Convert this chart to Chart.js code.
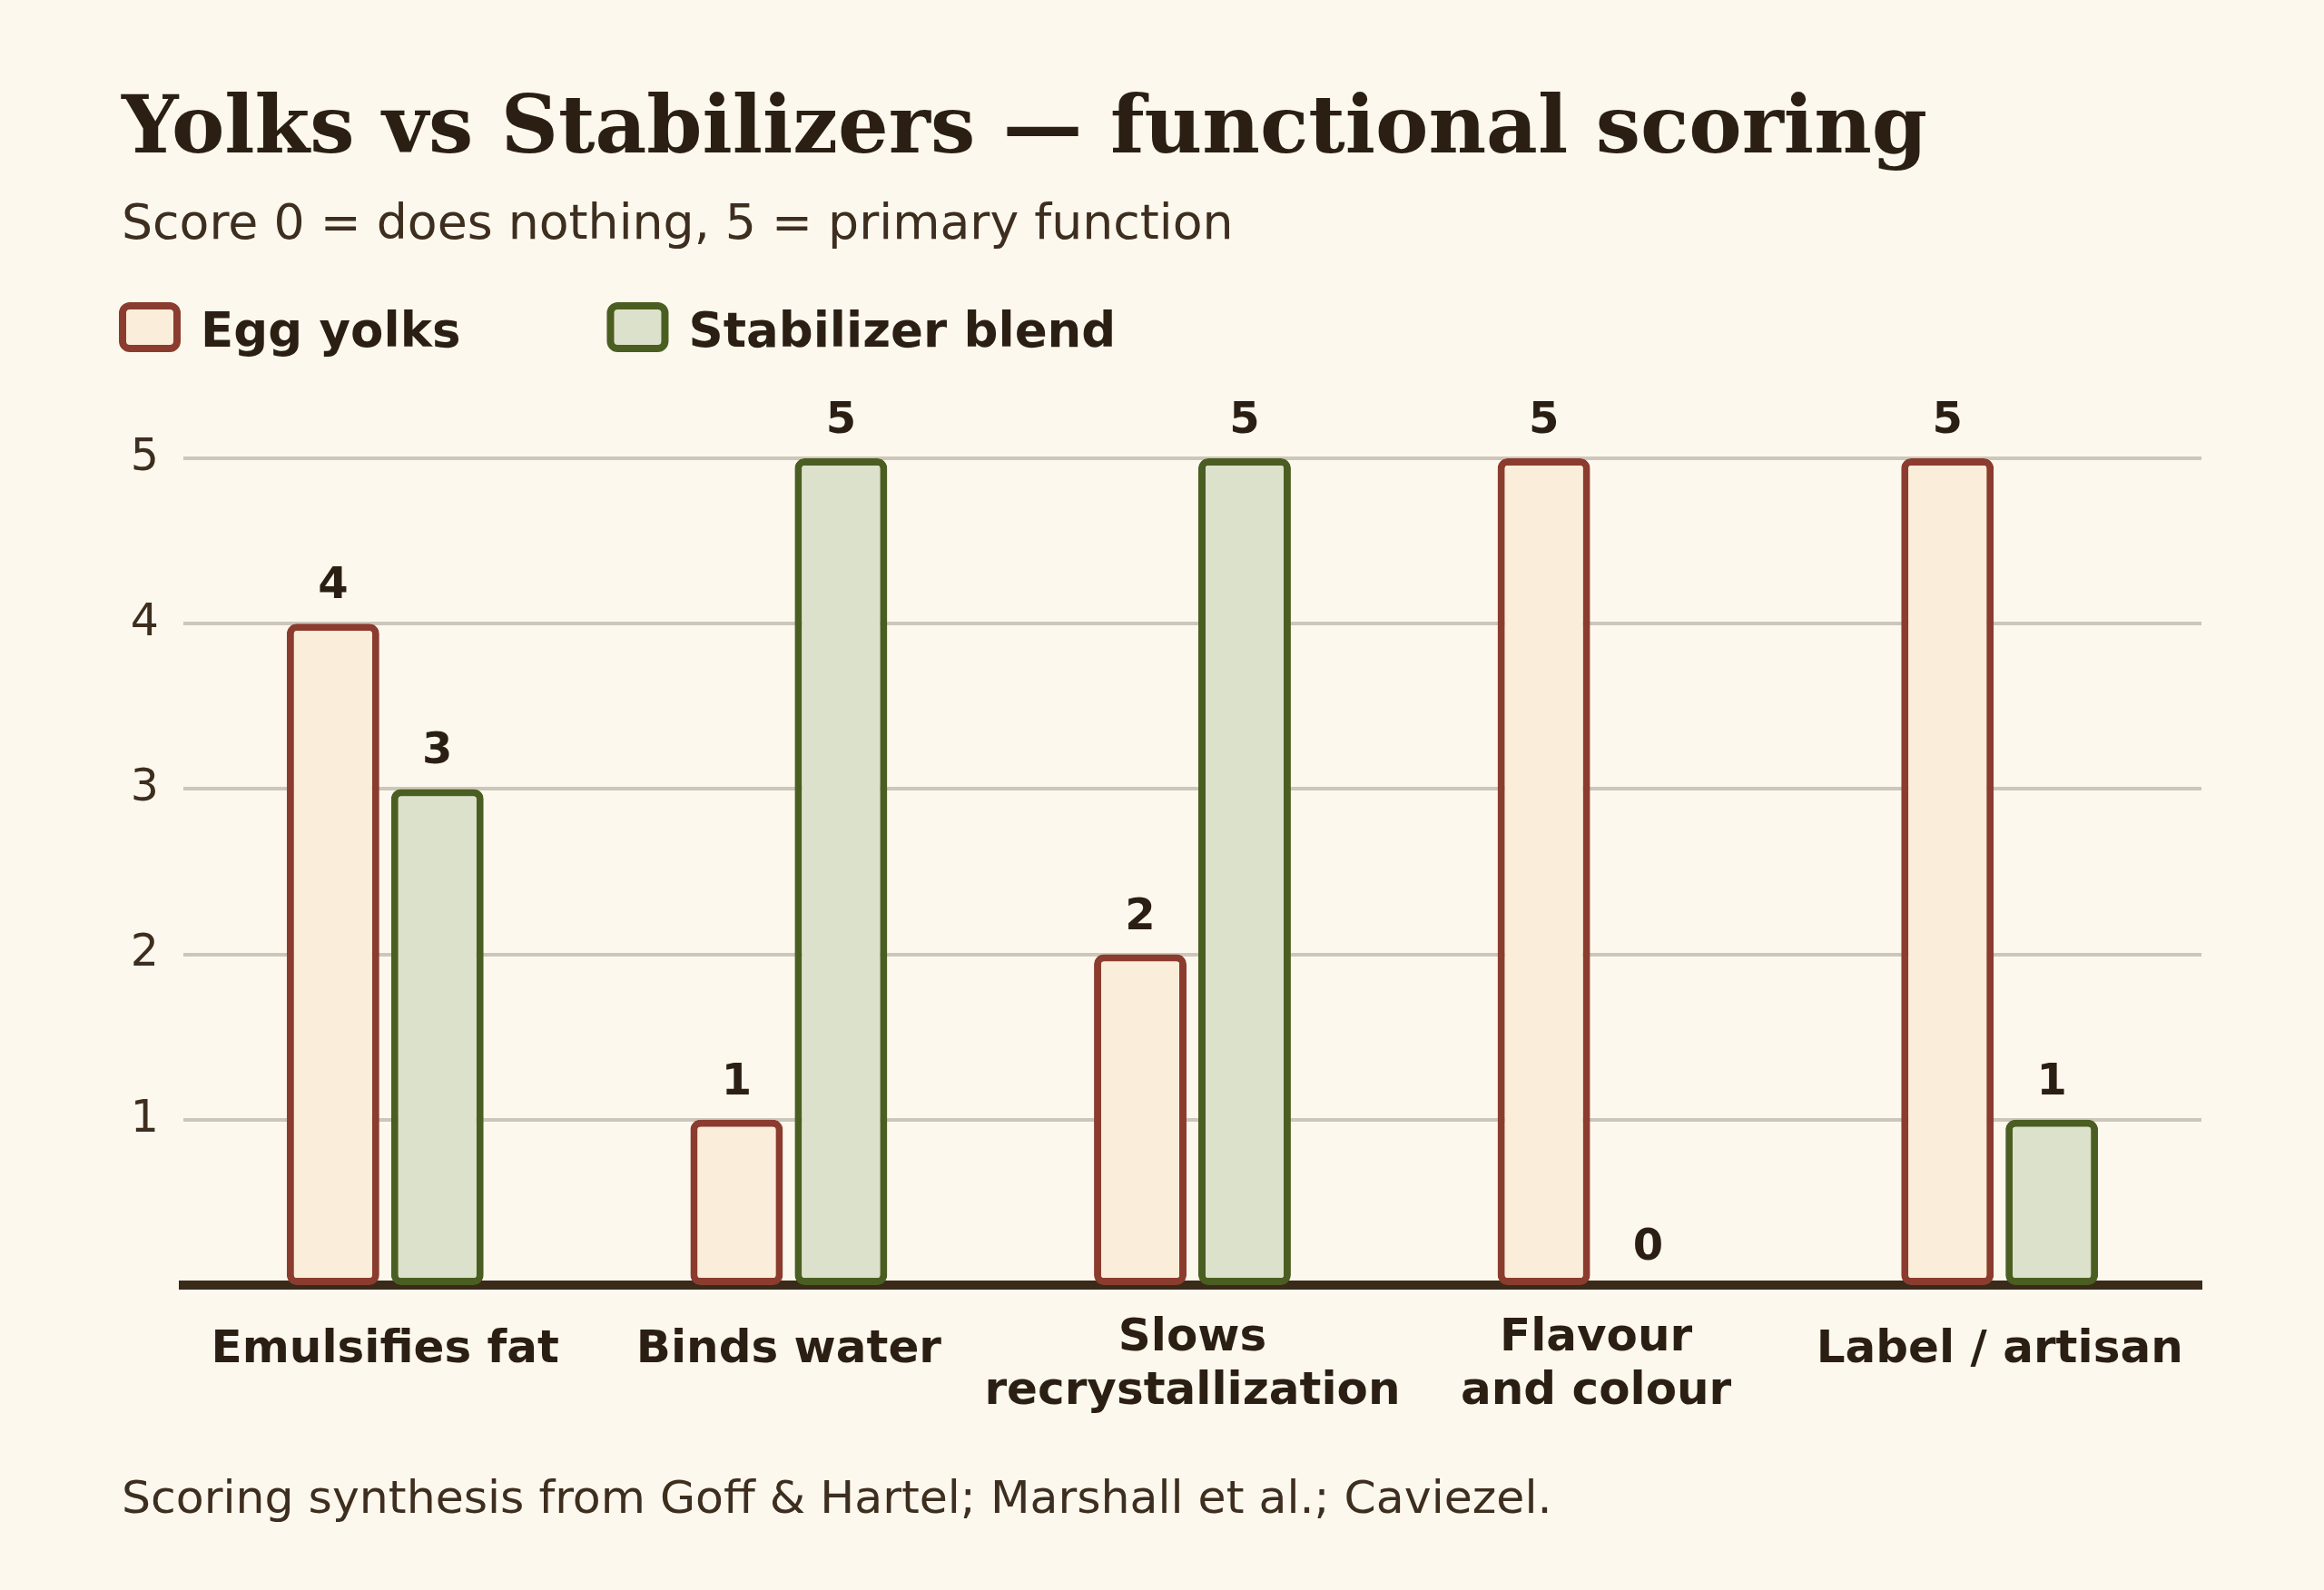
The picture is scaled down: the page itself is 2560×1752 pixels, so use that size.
<!DOCTYPE html>
<html>
<head>
<meta charset="utf-8">
<title>Yolks vs Stabilizers</title>
<script src="https://cdn.jsdelivr.net/npm/chart.js@4.4.1/dist/chart.umd.min.js"></script>
<style>
  html, body { margin: 0; padding: 0; background: #fcf8ee; }
  #wrap { width: 2560px; height: 1752px; }
</style>
</head>
<body>
<div id="wrap"><canvas id="chart" width="2560" height="1752"></canvas></div>
<script>
// data
const categories = ['Emulsifies fat', 'Binds water', ['Slows', 'recrystallization'], ['Flavour', 'and colour'], 'Label / artisan'];
const eggYolks = [4, 1, 2, 5, 5];
const stabilizerBlend = [3, 5, 5, 0, 1];
const seriesNames = ['Egg yolks', 'Stabilizer blend'];
const yTicks = [1, 2, 3, 4, 5];

const titleText = 'Yolks vs Stabilizers \u2014 functional scoring';
const subtitleText = 'Score 0 = does nothing, 5 = primary function';
const captionText = 'Scoring synthesis from Goff & Hartel; Marshall et al.; Caviezel.';

const ink = '#2b1f13';
const softInk = '#3d2e1f';
const sans = '"DejaVu Sans", sans-serif';

// title, subtitle, legend and source line
const chrome = {
	id: 'chrome',
	beforeDraw(chart) {
		const c = chart.ctx;
		c.save();
		c.fillStyle = '#fcf8ee';
		c.fillRect(0, 0, chart.width, chart.height);
		c.textAlign = 'left';
		c.textBaseline = 'alphabetic';
		c.fillStyle = ink;
		c.font = 'bold 87.6px "DejaVu Serif", serif';
		c.fillText(titleText, 134, 168);
		c.fillStyle = softInk;
		c.font = '53.7px ' + sans;
		c.fillText(subtitleText, 134, 263);
		c.font = '50.5px ' + sans;
		c.fillText(captionText, 134, 1667);

		let x = 135;
		c.font = 'bold 53px ' + sans;
		chart.data.datasets.forEach(ds => {
			c.beginPath();
			c.roundRect(x, 337, 60, 47, 8);
			c.fillStyle = ds.backgroundColor;
			c.fill();
			c.lineWidth = 8;
			c.strokeStyle = ds.borderColor;
			c.stroke();
			c.fillStyle = ink;
			c.fillText(ds.label, x + 86, 382);
			x += 86 + c.measureText(ds.label).width + 165;
		});
		c.restore();
	}
};

// numbers above the bars
const valueLabels = {
	id: 'valueLabels',
	afterDatasetsDraw(chart) {
		const c = chart.ctx;
		c.save();
		c.font = 'bold 48px ' + sans;
		c.fillStyle = ink;
		c.textAlign = 'center';
		c.textBaseline = 'alphabetic';
		chart.data.datasets.forEach((ds, i) => {
			chart.getDatasetMeta(i).data.forEach((bar, j) => {
				c.fillText(String(ds.data[j]), bar.x, bar.y - 28);
			});
		});
		c.restore();
	}
};

const barStyle = {
	borderWidth: 8,
	borderRadius: 11,
	borderSkipped: false,
	categoryPercentage: 0.517,
	barPercentage: 0.887
};

new Chart(document.getElementById('chart'), {
	type: 'bar',
	data: {
		labels: categories,
		datasets: [
			Object.assign({ label: seriesNames[0], data: eggYolks, backgroundColor: '#faeeda', borderColor: '#8b3c2f' }, barStyle),
			Object.assign({ label: seriesNames[1], data: stabilizerBlend, backgroundColor: '#dce1cb', borderColor: '#4b5e22' }, barStyle)
		]
	},
	options: {
		responsive: false,
		animation: false,
		layout: { padding: { top: 505, right: 135, bottom: 158, left: 0 } },
		plugins: {
			legend: { display: false },
			tooltip: { enabled: false }
		},
		scales: {
			x: {
				grid: { display: false, drawTicks: false },
				border: { display: true, color: '#3a2a1a', width: 10 },
				ticks: {
					color: ink,
					padding: 30,
					autoSkip: false,
					maxRotation: 0,
					minRotation: 0,
					font: (ctx) => ({
						family: sans,
						size: 50,
						weight: 'bold',
						// single-line labels sit a little lower than the first of two lines
						lineHeight: Array.isArray(categories[ctx.index]) ? '59px' : '85px'
					})
				}
			},
			y: {
				min: 0,
				max: 5,
				afterBuildTicks: (axis) => { axis.ticks = yTicks.map(v => ({ value: v })); },
				afterFit: (axis) => { axis.width = 202; },
				grid: { color: '#cdc6ba', lineWidth: 4, drawTicks: false },
				border: { display: false },
				ticks: {
					color: softInk,
					padding: 27,
					font: { family: sans, size: 49 }
				}
			}
		}
	},
	plugins: [chrome, valueLabels]
});
</script>
</body>
</html>
